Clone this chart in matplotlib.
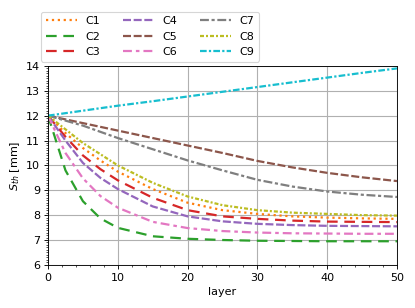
import matplotlib.pyplot as plt
from matplotlib.ticker import AutoMinorLocator

# donnees
layers = [0, 2.5, 5, 7.5, 10, 15, 20, 25, 30, 35, 40, 45, 50]

c1 = [12, 11.3, 10.7, 10.2, 9.75, 9.05, 8.5, 8.2, 8.05, 7.95, 7.9, 7.87, 7.85]
c2 = [12, 9.8, 8.56, 7.87, 7.49, 7.15, 7.05, 7.0, 6.97, 6.96, 6.95, 6.95, 6.95]
c3 = [12, 11.15, 10.4, 9.85, 9.4, 8.7, 8.2, 7.95, 7.85, 7.78, 7.74, 7.73, 7.72]
c4 = [12, 11.0, 10.1, 9.5, 9.05, 8.35, 7.95, 7.75, 7.65, 7.6, 7.57, 7.56, 7.55]
c5 = [12, 11.85, 11.7, 11.55, 11.4, 11.1, 10.8, 10.5, 10.18, 9.92, 9.7, 9.52, 9.37]
c6 = [12, 10.5, 9.48, 8.77, 8.3, 7.73, 7.48, 7.36, 7.3, 7.27, 7.26, 7.25, 7.25]
c7 = [12, 11.8, 11.6, 11.35, 11.1, 10.65, 10.2, 9.8, 9.42, 9.15, 8.95, 8.82, 8.73]
c8 = [12, 11.45, 10.9, 10.45, 10.0, 9.3, 8.75, 8.4, 8.2, 8.1, 8.05, 8.0, 7.98]
c9 = [12, 12.1, 12.2, 12.3, 12.4, 12.58, 12.77, 12.96, 13.15, 13.34, 13.53, 13.72, 13.9]

series = [c1, c2, c3, c4, c5, c6, c7, c8, c9]
labels = ["C1", "C2", "C3", "C4", "C5", "C6", "C7", "C8", "C9"]
styles = [
    (0, (1, 1.65)),
    (0, (4.8, 3)),
    (0, (4.8, 3)),
    (0, (3.6, 1.2)),
    (0, (3.6, 1.2)),
    (0, (4, 1.8, 1.6, 1.8)),
    (0, (4, 1.2, 1.4, 1.2)),
    (0, (1.8, 0.9, 0.9, 0.9)),
    (0, (3, 1, 1, 1)),
]

fig = plt.figure(figsize=(415 / 80, 308 / 80), dpi=80)
ax = fig.add_axes([0.1157, 0.140, 0.8409, 0.646])

for i in range(len(series)):
    ax.plot(layers, series[i], color="C" + str(i + 1), linestyle=styles[i],
            linewidth=2, label=labels[i])

ax.set_xlim(0, 50)
ax.set_ylim(6, 14)
ax.set_xlabel("layer")
ax.set_ylabel("$S_{th}$ [mm]")
ax.xaxis.set_minor_locator(AutoMinorLocator(5))
ax.yaxis.set_minor_locator(AutoMinorLocator(10))
ax.grid(which="major", color="#b0b0b0", linewidth=1)

fig.legend(loc="upper left", bbox_to_anchor=(0.099, 0.962), borderaxespad=0,
           ncol=3, handlelength=2.8, fontsize=10)

plt.savefig("out.png", dpi=80)
